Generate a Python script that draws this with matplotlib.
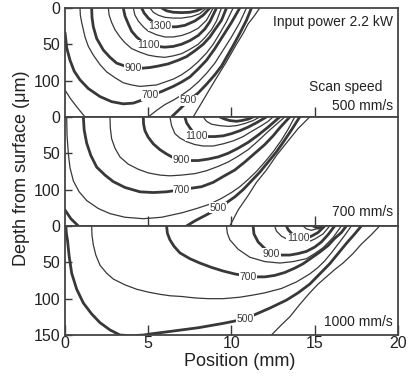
import matplotlib
matplotlib.use('Agg')
import matplotlib.pyplot as plt

plt.rcParams['font.family'] = ['Liberation Sans', 'DejaVu Sans']

# isotherms: (temperature C, position mm, depth um)
top_lines = [
    (1500, [5.8, 6.1, 6.5, 7.0, 7.5, 7.9, 8.3], [0, 4, 6, 6.5, 6, 4, 0]),
    (1400, [5.1, 5.3, 5.6, 6.0, 6.5, 7.0, 7.6, 8.1, 8.5], [0, 6, 10, 13, 14, 14, 12, 8, 0]),
    (1300, [4.6, 4.75, 5.0, 5.3, 5.7, 6.2, 6.7, 7.2, 7.8, 8.3, 8.7],
     [0, 7, 14, 20, 24, 26, 26, 24, 18, 10, 0]),
    (1200, [4.1, 4.2, 4.4, 4.7, 5.0, 5.5, 6.0, 6.5, 7.0, 7.5, 8.0, 8.5, 8.9],
     [0, 10, 18, 26, 32, 37, 40, 40, 38, 34, 28, 17, 0]),
    (1100, [3.5, 3.6, 3.8, 4.0, 4.3, 4.6, 5.0, 5.5, 6.0, 6.5, 7.0, 7.5, 8.0, 8.4, 8.7, 9.1],
     [0, 11, 22, 32, 40, 46, 50, 53, 54, 53, 50, 45, 38, 29, 19, 0]),
    (1000, [2.6, 2.65, 2.8, 3.0, 3.3, 3.6, 4.0, 4.5, 5.0, 5.5, 6.0, 6.5, 7.0, 7.5, 8.0, 8.4, 8.8, 9.1, 9.4],
     [0, 10, 20, 30, 40, 48, 56, 61, 65, 67, 68, 66, 63, 57, 50, 41, 30, 18, 0]),
    (900, [1.6, 1.62, 1.7, 1.9, 2.3, 2.7, 3.1, 3.6, 4.1, 4.6, 5.1, 5.6, 6.2, 6.8, 7.3, 7.8, 8.3, 8.7, 9.0, 9.4, 9.7],
     [0, 13, 26, 42, 58, 68, 76, 80, 83, 83, 82, 80, 77, 72, 67, 59, 50, 40, 30, 17, 0]),
    (800, [0.9, 0.92, 1.0, 1.1, 1.2, 1.4, 1.7, 2.1, 2.5, 3.0, 3.5, 4.0, 4.5, 5.0, 5.5, 6.0, 6.5, 7.0, 7.5,
           8.0, 8.5, 8.9, 9.3, 9.7, 10.1],
     [0, 10, 20, 30, 40, 53, 65, 78, 88, 96, 103, 106, 108, 107, 106, 102, 98, 92, 84, 74, 62, 50, 35, 19, 0]),
    (700, [0.0, 0.1, 0.3, 0.55, 0.9, 1.4, 2.1, 2.8, 3.5, 4.1, 4.6, 5.1, 5.8, 6.5, 7.0, 7.5, 8.0, 8.5, 9.0,
           9.5, 10.0, 10.5],
     [34, 55, 72, 87, 99, 111, 122, 129, 132, 131, 127, 121, 115, 108, 102, 95, 84, 72, 56, 38, 20, 0]),
    (600, [0.0, 0.3, 0.7, 1.2], [113, 124, 136, 150]),
    (600, [5.0, 5.5, 6.0, 6.5, 7.0, 7.5, 8.0, 8.5, 9.0, 9.5, 10.0, 10.5, 10.9],
     [150, 141, 133, 127, 120, 112, 102, 90, 76, 58, 40, 20, 0]),
    (500, [6.4, 6.9, 7.4, 8.0, 8.5, 9.0, 9.4, 9.7, 10.1, 10.5, 10.9, 11.2],
     [150, 139, 128, 117, 105, 92, 80, 68, 52, 35, 17, 0]),
    (400, [7.7, 8.4, 9.0, 9.7, 10.3, 10.7, 11.0, 11.4, 11.7], [150, 123, 100, 74, 50, 35, 22, 10, 0]),
]
top_labels = [(1300, 5.7, 25), (1100, 5.0, 51), (900, 4.1, 83), (700, 5.1, 120), (500, 7.4, 127)]

mid_lines = [
    (1300, [9.3, 9.6, 9.9, 10.3, 10.6, 11.0, 11.3], [0, 3, 5, 6, 5, 3, 0]),
    (1200, [8.3, 8.5, 8.8, 9.3, 9.8, 10.3, 10.8, 11.3, 11.7], [0, 6, 10, 12, 13, 12, 9, 5, 0]),
    (1100, [7.2, 7.3, 7.5, 7.7, 7.9, 8.4, 9.0, 9.5, 10.0, 10.5, 11.0, 11.5, 12.1],
     [0, 8, 15, 21, 26, 27, 27, 26, 23, 19, 14, 8, 0]),
    (1000, [6.3, 6.4, 6.6, 6.9, 7.3, 7.8, 8.3, 8.9, 9.5, 10.1, 10.7, 11.2, 11.8, 12.2, 12.5],
     [0, 12, 23, 29, 34, 38, 40, 40, 37, 33, 27, 20, 12, 6, 0]),
    (900, [4.7, 4.72, 4.8, 5.0, 5.3, 5.7, 6.1, 6.5, 7.0, 7.5, 8.0, 8.6, 9.2, 9.8, 10.4, 11.0, 11.6, 12.2, 12.9],
     [0, 10, 19, 28, 37, 45, 51, 56, 59, 60, 60, 58, 55, 50, 43, 35, 25, 14, 0]),
    (800, [2.7, 2.72, 2.8, 3.0, 3.3, 3.8, 4.4, 5.0, 5.7, 6.3, 7.0, 7.8, 8.5, 9.2, 9.8, 10.4, 11.0, 11.6,
           12.2, 12.7, 13.2],
     [0, 15, 30, 43, 55, 65, 72, 77, 80, 81, 80, 78, 74, 68, 62, 54, 45, 33, 20, 10, 0]),
    (700, [1.1, 1.15, 1.3, 1.55, 1.9, 2.4, 2.9, 3.6, 4.5, 5.3, 6.1, 7.0, 7.6, 8.2, 8.9, 9.5, 10.2, 10.8,
           11.4, 12.0, 12.5, 12.9, 13.5],
     [0, 18, 36, 53, 69, 80, 89, 97, 103, 104, 103, 100, 98, 96, 90, 82, 73, 62, 50, 38, 26, 15, 0]),
    (600, [0.1, 0.12, 0.2, 0.3, 0.5, 0.85, 1.3, 2.0, 2.7, 3.6, 4.7, 5.8, 7.0, 7.9, 8.7, 9.4, 10.0, 10.5,
           11.0, 11.5, 12.0, 12.5, 13.0, 13.4, 13.8],
     [0, 25, 51, 70, 88, 103, 115, 126, 133, 138, 140, 138, 132, 126, 120, 112, 104, 96, 86, 75, 62, 48,
      32, 17, 0]),
    (500, [0.0, 0.35, 0.8], [128, 140, 150]),
    (500, [7.3, 7.8, 8.3, 8.8, 9.2, 9.7, 10.2, 10.7, 11.2, 11.7, 12.2, 12.7, 13.1, 13.6, 14.1],
     [150, 143, 137, 131, 125, 118, 110, 100, 88, 76, 62, 48, 35, 18, 0]),
    (400, [9.9, 10.4, 11.0, 11.5, 12.1, 12.7, 13.4, 14.0, 14.7], [150, 128, 108, 90, 73, 53, 33, 16, 0]),
]
mid_labels = [(1100, 7.9, 26), (900, 7.0, 59), (700, 7.0, 100), (500, 9.2, 125)]

bot_lines = [
    (1300, [14.9, 15.2, 15.5], [0, 3, 0]),
    (1200, [14.3, 14.5, 14.8, 15.1, 15.4], [0, 4, 6, 4, 0]),
    (1100, [13.3, 13.4, 13.6, 13.8, 14.0, 14.4, 14.8, 15.2, 15.6], [0, 5, 10, 14, 17, 17, 14, 9, 0]),
    (1000, [12.6, 12.7, 13.0, 13.5, 14.0, 14.5, 15.0, 15.5, 15.9], [0, 7, 14, 20, 24, 23, 18, 11, 0]),
    (900, [11.3, 11.35, 11.6, 12.0, 12.4, 13.0, 13.5, 14.0, 14.5, 15.0, 15.4, 15.8, 16.2],
     [0, 11, 22, 31, 38, 40, 40, 38, 35, 29, 22, 12, 0]),
    (800, [9.7, 9.75, 9.9, 10.4, 11.1, 12.0, 12.9, 13.7, 14.5, 15.0, 15.5, 16.1, 16.6],
     [0, 10, 19, 32, 43, 49, 51, 49, 45, 38, 30, 16, 0]),
    (700, [6.1, 6.15, 6.3, 6.55, 6.9, 7.5, 8.1, 8.8, 9.5, 10.2, 11.0, 11.5, 12.0, 12.6, 13.2, 13.8, 14.3,
           14.8, 15.3, 15.8, 16.2, 16.6, 16.9],
     [0, 10, 19, 28, 37, 45, 51, 57, 62, 66, 69, 70, 70, 68, 64, 58, 52, 44, 36, 27, 17, 9, 0]),
    (600, [1.6, 1.62, 1.7, 1.85, 2.1, 2.5, 2.9, 3.6, 4.3, 5.0, 5.7, 6.3, 7.0, 7.8, 8.6, 9.5, 10.5, 11.3,
           12.0, 12.5, 13.0, 13.9, 14.7, 15.2, 15.6, 16.0, 16.4, 16.8, 17.2],
     [0, 13, 26, 40, 54, 65, 73, 81, 87, 91, 94, 96, 97, 99, 100, 100, 98, 95, 92, 89, 86, 77, 66, 57, 48,
      37, 25, 13, 0]),
    (500, [0.05, 0.08, 0.15, 0.25, 0.4, 0.7, 1.1, 1.6, 2.1, 2.7, 3.3, 4.0, 4.7, 5.3, 6.0, 7.0, 8.0, 9.5,
           10.8, 11.6, 12.3, 13.3, 14.0, 14.7, 15.3, 15.9, 16.4, 16.9, 17.4, 17.8],
     [0, 10, 20, 42, 65, 87, 106, 121, 133, 143, 150, 151, 150, 148, 146, 143, 140, 134, 128, 120, 113,
      102, 92, 80, 66, 52, 38, 24, 11, 0]),
    (400, [12.4, 13.0, 13.5, 14.1, 14.7, 15.2, 15.8, 16.2, 16.7, 17.3, 17.8, 18.4, 18.9],
     [150, 136, 125, 108, 92, 80, 68, 60, 51, 38, 25, 12, 0]),
]
bot_labels = [(1100, 14.0, 17), (900, 12.4, 38), (700, 11.0, 70), (500, 10.8, 128)]

ink = '#383838'

fig = plt.figure(figsize=(4.09, 3.76), dpi=100)
ax1 = fig.add_axes([0.159, 0.689, 0.814, 0.290])
ax2 = fig.add_axes([0.159, 0.399, 0.814, 0.290])
ax3 = fig.add_axes([0.159, 0.109, 0.814, 0.290])

panels = [(ax1, top_lines, top_labels), (ax2, mid_lines, mid_labels), (ax3, bot_lines, bot_labels)]

for ax, lines, labels in panels:
    for temp, xs, ds in lines:
        lw = 2.0 if (temp // 100) % 2 == 1 else 0.9
        ax.plot(xs, ds, color=ink, lw=lw, solid_joinstyle='round', solid_capstyle='round')
    for temp, x, d in labels:
        ax.text(x, d, str(temp), fontsize=7.5, color=ink, ha='center', va='center',
                bbox=dict(facecolor='white', edgecolor='none', pad=0.3))
    ax.set_xlim(0, 20)
    ax.set_ylim(150, 0)
    ax.set_xticks([5, 10, 15])
    ax.set_yticks([0, 50, 100])
    ax.tick_params(direction='in', length=5, width=1, color=ink, labelsize=11.5, labelcolor='#222')
    ax.tick_params(axis='x', length=7.5, labelbottom=False)
    for s in ax.spines.values():
        s.set_linewidth(1.3)
        s.set_color('#444')

ax3.set_xticks([0, 5, 10, 15, 20])
ax3.set_yticks([0, 50, 100, 150])
ax3.tick_params(axis='x', labelbottom=True, pad=1)

ax1.text(19.7, 19, 'Input power 2.2 kW', fontsize=10, ha='right', va='center', color='#222')
ax1.text(19.05, 109, 'Scan speed', fontsize=10, ha='right', va='center', color='#222')
ax1.text(19.7, 135, '500 mm/s', fontsize=10, ha='right', va='center', color='#222')
ax2.text(19.7, 131, '700 mm/s', fontsize=10, ha='right', va='center', color='#222')
ax3.text(19.7, 132, '1000 mm/s', fontsize=10, ha='right', va='center', color='#222')

fig.text(240 / 409, 1 - 362 / 376, 'Position (mm)', fontsize=13, ha='center', va='center', color='#222')
fig.text(22 / 409, 1 - 168 / 376, 'Depth from surface (\u03bcm)', fontsize=13, rotation=90,
         ha='center', va='center', color='#222')

fig.savefig('out.png', dpi=100)
